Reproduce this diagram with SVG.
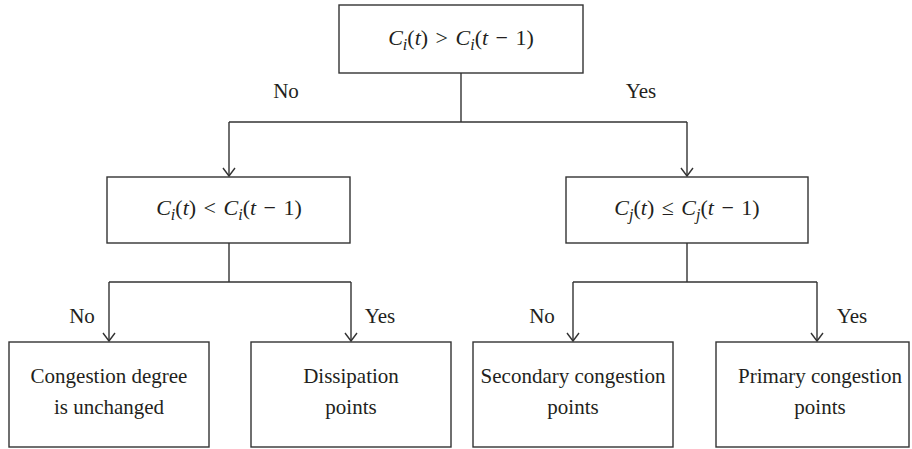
<svg xmlns="http://www.w3.org/2000/svg" width="912" height="449" viewBox="0 0 912 449">
<style>
.box{fill:#fff;stroke:#333;stroke-width:1.4}
.ln{fill:none;stroke:#333;stroke-width:1.4}
text{font-family:'Liberation Serif','DejaVu Serif',serif;font-size:21px;fill:#231f20;text-anchor:middle}
.math{font-size:22px;word-spacing:2px}
.it{font-style:italic}
.sub{font-style:italic;font-size:16px}
</style>
<defs>
<marker id="arr" markerUnits="userSpaceOnUse" markerWidth="12" markerHeight="16" viewBox="-10 -8 12 16" refX="0" refY="0" orient="auto">
<path d="M-8,-6 L0,0 L-8,6" fill="none" stroke="#333" stroke-width="1.4"/>
</marker>
</defs>
<g id="connectors">
<path class="ln" d="M461,73 V122"/>
<path class="ln" d="M229,122 H687"/>
<path class="ln" d="M229,122 V176" marker-end="url(#arr)"/>
<path class="ln" d="M687,122 V176" marker-end="url(#arr)"/>
<path class="ln" d="M229,243 V282 M109,282 H351"/>
<path class="ln" d="M109,282 V341" marker-end="url(#arr)"/>
<path class="ln" d="M351,282 V341" marker-end="url(#arr)"/>
<path class="ln" d="M687,243 V282 M573,282 H817"/>
<path class="ln" d="M573,282 V341" marker-end="url(#arr)"/>
<path class="ln" d="M817,282 V341" marker-end="url(#arr)"/>
<text x="286" y="98">No</text>
<text x="641" y="98">Yes</text>
<text x="82" y="323">No</text>
<text x="380" y="323">Yes</text>
<text x="542" y="323">No</text>
<text x="852" y="323">Yes</text>
</g>
<g id="n0">
<rect class="box" x="339" y="5" width="244" height="68"/>
<text class="math" x="461" y="45"><tspan class="it">C</tspan><tspan class="sub" dy="5">i</tspan><tspan dy="-5">(</tspan><tspan class="it">t</tspan>) &gt; <tspan class="it">C</tspan><tspan class="sub" dy="5">i</tspan><tspan dy="-5">(</tspan><tspan class="it">t</tspan> − 1)</text>
</g>
<g id="n1">
<rect class="box" x="107" y="177" width="243" height="66"/>
<text class="math" x="229" y="215"><tspan class="it">C</tspan><tspan class="sub" dy="5">i</tspan><tspan dy="-5">(</tspan><tspan class="it">t</tspan>) &lt; <tspan class="it">C</tspan><tspan class="sub" dy="5">i</tspan><tspan dy="-5">(</tspan><tspan class="it">t</tspan> − 1)</text>
</g>
<g id="n2">
<rect class="box" x="566" y="177" width="242" height="66"/>
<text class="math" x="687" y="215"><tspan class="it">C</tspan><tspan class="sub" dy="5">j</tspan><tspan dy="-5">(</tspan><tspan class="it">t</tspan>) ≤ <tspan class="it">C</tspan><tspan class="sub" dy="5">j</tspan><tspan dy="-5">(</tspan><tspan class="it">t</tspan> − 1)</text>
</g>
<g id="n3">
<rect class="box" x="9" y="342" width="200" height="105"/>
<text x="109" y="383">Congestion degree</text>
<text x="109" y="414">is unchanged</text>
</g>
<g id="n4">
<rect class="box" x="251" y="342" width="200" height="105"/>
<text x="351" y="383">Dissipation</text>
<text x="351" y="414">points</text>
</g>
<g id="n5">
<rect class="box" x="473" y="342" width="200" height="105"/>
<text x="573" y="383" font-size="22">Secondary congestion</text>
<text x="573" y="414">points</text>
</g>
<g id="n6">
<rect class="box" x="716" y="342" width="193" height="105"/>
<text x="820" y="383">Primary congestion</text>
<text x="820" y="414">points</text>
</g>
</svg>
